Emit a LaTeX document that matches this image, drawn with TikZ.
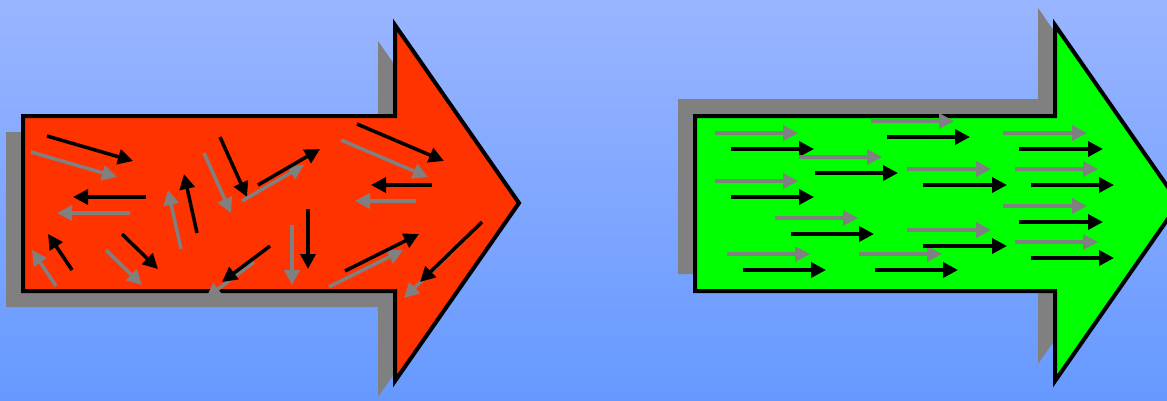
\documentclass[tikz,border=0pt]{standalone}
\usetikzlibrary{arrows.meta}

\definecolor{bgtop}{RGB}{153,181,255}
\definecolor{bgbottom}{RGB}{102,153,255}
\definecolor{redfill}{RGB}{255,51,0}
\definecolor{greenfill}{RGB}{0,255,0}
\definecolor{shadowgray}{RGB}{128,128,128}

% big block arrow: shaft left x, head x, tip x
\newcommand{\blockarrow}[4]{%
  \path[#1] (#2,116) -- (#3,116) -- (#3,25) -- (#4,203) -- (#3,381)
    -- (#3,291) -- (#2,291) -- cycle;}

\begin{document}
\begin{tikzpicture}[
    x=1pt, y=-1pt,
    outline/.style={draw=black, line width=4pt, miter limit=10},
    vecblack/.style={draw=black, line width=3.5pt,
                     -{Triangle[length=15pt, width=15pt]}},
    vecgray/.style={draw=shadowgray, line width=3.5pt,
                    -{Triangle[length=15pt, width=15pt]}},
  ]
  \useasboundingbox (0,0) rectangle (1167,400);
  \clip (0,0) rectangle (1167,400);
  \shade[top color=bgtop, bottom color=bgbottom] (0,0) rectangle (1167,400);

  % disordered: red arrow, shadow below left
  \blockarrow{fill=shadowgray, shift={(-17,16)}}{23}{395}{519}
  \blockarrow{outline, fill=redfill}{23}{395}{519}
  \foreach \sx/\sy/\ex/\ey in {47/136/133/161, 146/197/73/197, 72/270/48/234,
      122/234/158/269, 197/233/184/174, 220/137/247/197, 270/246/222/282,
      258/185/320/149, 357/124/444/161, 432/185/371/185, 308/209/308/269,
      345/271/419/234, 482/222/420/282} {
    \draw[vecgray, shift={(-16,16)}] (\sx,\sy) -- (\ex,\ey);
    \draw[vecblack] (\sx,\sy) -- (\ex,\ey);
  }

  % aligned: green arrow, shadow above left
  \blockarrow{fill=shadowgray, shift={(-17,-17)}}{695}{1055}{1179}
  \blockarrow{outline, fill=greenfill}{695}{1055}{1179}
  \foreach \sx/\sy/\ex/\ey in {731/149/814/149, 815/173/898/173,
      731/197/814/197, 791/234/874/234, 743/270/826/270, 875/270/958/270,
      887/137/970/137, 923/185/1007/185, 923/246/1007/246,
      1019/149/1103/149, 1031/185/1114/185, 1019/222/1103/222,
      1031/258/1114/258} {
    \draw[vecgray, shift={(-16,-16)}] (\sx,\sy) -- (\ex,\ey);
    \draw[vecblack] (\sx,\sy) -- (\ex,\ey);
  }
\end{tikzpicture}
\end{document}
